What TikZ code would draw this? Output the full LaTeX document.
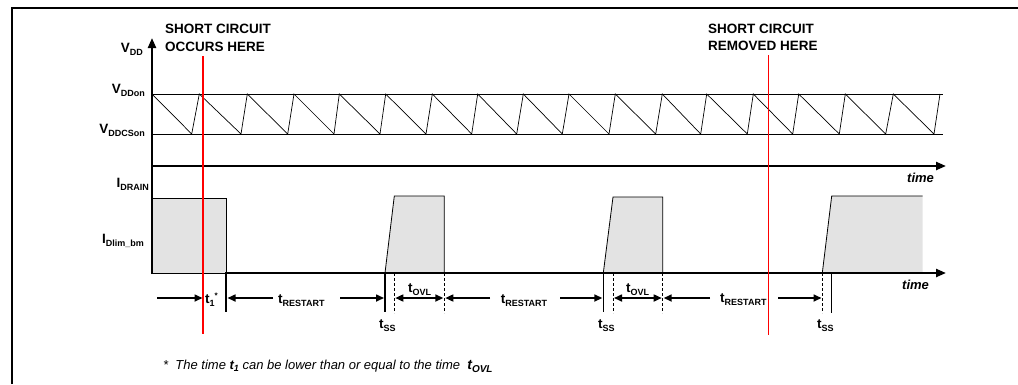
\documentclass[tikz,border=0pt]{standalone}
\usepackage{fontspec}
\setmainfont{Liberation Sans}
\usetikzlibrary{arrows.meta}
\definecolor{pulsegray}{RGB}{227,227,227}
\newcommand{\mysig}[2]{#1\raisebox{-3pt}{\fontsize{9}{9}\selectfont #2}}
\begin{document}
\begin{tikzpicture}[x=1pt,y=-1pt,
  thinl/.style={line width=0.8pt},
  frame/.style={line width=2pt},
  axis/.style={line width=2.2pt,-{Triangle[length=10pt,width=8pt]}},
  vaxis/.style={line width=2.2pt},
  dim/.style={line width=1.6pt,-{Triangle[length=8pt,width=7pt]}},
  dimboth/.style={line width=1.6pt,{Triangle[length=8pt,width=7pt]}-{Triangle[length=8pt,width=7pt]}},
  solidtick/.style={line width=1.4pt},
  dashtick/.style={line width=0.8pt,dash pattern=on 3pt off 2pt},
  redline/.style={red,line width=1.3pt},
  pulse/.style={fill=pulsegray,draw=none},
  lbl/.style={inner sep=0pt,font=\bfseries\fontsize{13.5}{14}\selectfont},
  note/.style={inner sep=0pt,font=\bfseries\fontsize{13.5}{14}\selectfont},
  timel/.style={inner sep=0pt,font=\bfseries\itshape\fontsize{13}{14}\selectfont},
  foot/.style={inner sep=0pt,font=\itshape\fontsize{13}{14}\selectfont},
]
\useasboundingbox (0,0) rectangle (1018,384);
% frame
\draw[frame] (12,384) -- (12,8) -- (1018,8);

% pulses (fills)
\fill[pulse] (151,198) rectangle (226,273);
\fill[pulse] (385,273) -- (394.3,196) -- (444.3,196) -- (444.3,273) -- cycle;
\fill[pulse] (603.3,273) -- (613,197) -- (662.7,197) -- (662.7,273) -- cycle;
\fill[pulse] (822.3,273) -- (831.7,196) -- (922.7,196) -- (922.7,273) -- cycle;
% pulse outlines
\draw[thinl] (151,198) -- (226,198) -- (226,273);
\draw[thinl] (151,273) -- (226,273);
\draw[thinl] (385,273) -- (394.3,196) -- (444.3,196) -- (444.3,273);
\draw[thinl] (603.3,273) -- (613,197) -- (662.7,197) -- (662.7,273);
\draw[thinl] (822.3,273) -- (831.7,196) -- (922.7,196);

% axes
\coordinate (vtop) at (152,38);
\coordinate (vbot) at (152,274);
\draw[vaxis,-{Triangle[length=10pt,width=8pt]}] (vbot) -- (vtop);
\coordinate (ua0) at (151,166);
\coordinate (ua1) at (946,166);
\draw[axis] (ua0) -- (ua1);
\coordinate (la0) at (225,273);
\coordinate (la1) at (946,273);
\draw[axis] (la0) -- (la1);

% VDD levels
\coordinate (on0) at (152,94);
\coordinate (on1) at (943,94);
\coordinate (cs0) at (152,134);
\coordinate (cs1) at (943,134);
\draw[thinl] (on0) -- (on1);
\draw[thinl] (cs0) -- (cs1);
% sawtooth
\draw[line width=0.7pt] (152,94)
  \foreach \b/\p in {191.7/199.3, 241/247.3, 287.7/294, 334/339.3, 380/385.7,
    426/432.3, 471.7/477.7, 516.7/523.3, 562.3/569, 609/615.3, 655.7/662.3,
    700.7/706.7, 747.3/753.3, 792.7/798.7, 839.3/845.3, 885.7/893.3, 934/940}
  { -- (\b,134) -- (\p,94) };

% axis labels
\node[lbl,anchor=base east] (lvdd) at (143,52) {\mysig{V}{DD}};
\node[lbl,anchor=base east] (lvon) at (145,93) {\mysig{V}{DDon}};
\node[lbl,anchor=base east] (lvcs) at (145,133) {\mysig{V}{DDCSon}};
\node[lbl,anchor=base east] (lid) at (149,187) {\mysig{I}{DRAIN}};
\node[lbl,anchor=base east] (lilim) at (144,243) {\mysig{I}{Dlim\_bm}};
\node[timel,anchor=base west] (time1) at (907,182) {time};
\node[timel,anchor=base west] (time2) at (902,289) {time};

% notes
\node[note,anchor=base west] (sc1a) at (165,33.3) {SHORT CIRCUIT};
\node[note,anchor=base west] (sc1b) at (165,51.3) {OCCURS HERE};
\node[note,anchor=base west] (sc2a) at (708,33.3) {SHORT CIRCUIT};
\node[note,anchor=base west] (sc2b) at (708,50.7) {REMOVED HERE};

% ticks
\draw[solidtick] (226,273) -- (226,312);
\draw[solidtick] (385,273) -- (385,312);
\draw[dashtick] (394.3,273) -- (394.3,313);
\draw[dashtick] (444.3,273) -- (444.3,313);
\draw[solidtick] (603.3,273) -- (603.3,312);
\draw[dashtick] (613,273) -- (613,313);
\draw[dashtick] (662.7,273) -- (662.7,313);
\draw[dashtick] (822.3,273) -- (822.3,313);
\draw[solidtick] (831.7,273) -- (831.7,313);

% dimension arrows
\coordinate (a1s) at (157,298);   \coordinate (a1e) at (202.5,298);
\coordinate (a2s) at (273,298);   \coordinate (a2e) at (227.5,298);
\coordinate (a3s) at (340,298);   \coordinate (a3e) at (384,298);
\coordinate (o1s) at (395.3,298); \coordinate (o1e) at (443.3,298);
\coordinate (a4s) at (490,298);   \coordinate (a4e) at (445.3,298);
\coordinate (a5s) at (560,298);   \coordinate (a5e) at (602.3,298);
\coordinate (o2s) at (614,298);   \coordinate (o2e) at (661.7,298);
\coordinate (a6s) at (710,298);   \coordinate (a6e) at (663.7,298);
\coordinate (a7s) at (778,298);   \coordinate (a7e) at (821.5,298);
\draw[dim] (a1s) -- (a1e);
\draw[dim] (a2s) -- (a2e);
\draw[dim] (a3s) -- (a3e);
\draw[dimboth] (o1s) -- (o1e);
\draw[dim] (a4s) -- (a4e);
\draw[dim] (a5s) -- (a5e);
\draw[dimboth] (o2s) -- (o2e);
\draw[dim] (a6s) -- (a6e);
\draw[dim] (a7s) -- (a7e);

% timing labels
\node[lbl,anchor=base west] (t1) at (205,303) {t\raisebox{-3pt}{\fontsize{9}{9}\selectfont 1}\raisebox{5pt}{\fontsize{8}{8}\selectfont *}};
\node[lbl,anchor=base west] (tr1) at (278,303) {\mysig{t}{RESTART}};
\node[lbl,anchor=base] (tr2) at (524,303) {\mysig{t}{RESTART}};
\node[lbl,anchor=base west] (tr3) at (720,302) {\mysig{t}{RESTART}};
\node[lbl,anchor=base west] (to1) at (408,292) {\mysig{t}{OVL}};
\node[lbl,anchor=base west] (to2) at (626,292) {\mysig{t}{OVL}};
\node[lbl,anchor=base west] (ts1) at (379,328) {\mysig{t}{SS}};
\node[lbl,anchor=base west] (ts2) at (598,328) {\mysig{t}{SS}};
\node[lbl,anchor=base west] (ts3) at (817,328) {\mysig{t}{SS}};

% footnote
\node[foot,anchor=base west] (fn) at (163,369) {*\ \ The time \textbf{t\raisebox{-2pt}{\fontsize{9}{9}\selectfont 1}} can be lower than or equal to the time \ \textbf{\fontsize{14}{14}\selectfont t\raisebox{-3pt}{\fontsize{10}{10}\selectfont OVL}}};

% red markers
\coordinate (r1t) at (203,56);
\coordinate (r1b) at (203,334);
\coordinate (r2t) at (768.3,55);
\coordinate (r2b) at (768.3,335);
\draw[redline] (r1t) -- (r1b);
\draw[redline] (r2t) -- (r2b);
\end{tikzpicture}
\end{document}
